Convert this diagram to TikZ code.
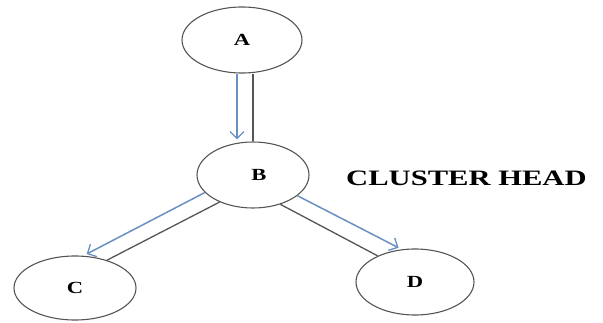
\documentclass[tikz,border=0pt]{standalone}
\usepackage{fontspec}
\setmainfont{Liberation Serif}
\newfontfamily\widefont[FakeStretch=1.33]{Liberation Serif Bold}
\newfontfamily\labelfont[FakeStretch=1.39]{Liberation Serif Bold}
\usetikzlibrary{shapes.geometric,arrows.meta}
\definecolor{edgegray}{HTML}{555555}
\definecolor{arrowblue}{HTML}{6A8FC0}
\tikzset{
  vnode/.style={ellipse, draw=edgegray, line width=1.1pt, inner sep=0pt,
    font=\widefont\fontsize{17}{17}\selectfont},
  grayline/.style={draw=edgegray, line width=1.3pt},
  bluearrow/.style={draw=arrowblue, line width=1.5pt,
    -{Straight Barb[length=7pt,width=14pt,line width=1.3pt]}},
  label/.style={font=\labelfont\fontsize{22}{22}\selectfont, inner sep=0pt, anchor=west}
}
\begin{document}
\begin{tikzpicture}[x=1pt,y=1pt]
\useasboundingbox (0,0) rectangle (603,322);
\node[vnode, minimum width=120pt, minimum height=66pt] (A) at (242,282) {A};
\node[vnode, minimum width=112pt, minimum height=66pt] (B) at (253,147) {\hspace{12pt}B};
\node[vnode, minimum width=122pt, minimum height=64pt] (C) at (75,34) {C};
\node[vnode, minimum width=118pt, minimum height=66pt] (D) at (415,40) {D};
\node[label] (L) at (346,144) {CLUSTER HEAD};
% A -> B
\draw[bluearrow] ([xshift=-5pt]A.south) -- ([xshift=-16pt,yshift=2pt]B.north);
\draw[grayline] ([xshift=11pt]A.south) -- (B.north);
% B -> C
\draw[bluearrow] (B.200) -- ([shift={(0pt,2pt)}]C.70);
\draw[grayline] (B.219) -- (C.41);
% B -> D
\draw[bluearrow] (B.335) -- ([yshift=2pt]D.117);
\draw[grayline] (B.313) -- (D.145);
\end{tikzpicture}
\end{document}
